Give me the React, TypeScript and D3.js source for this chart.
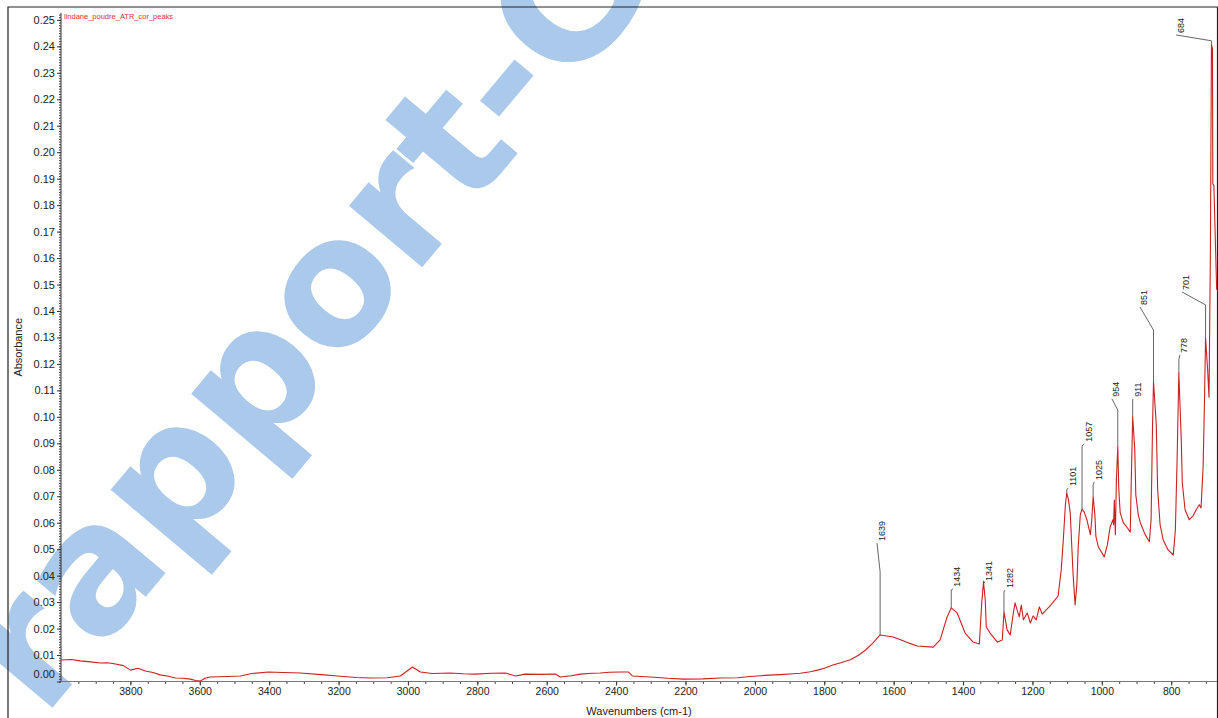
import React, { useEffect, useRef } from 'react';
import * as d3 from 'd3';

// spectrum: wavenumber (cm-1) and absorbance
const wavenumbers = [
  4000, 3970, 3944, 3915, 3886, 3865, 3843, 3820, 3800, 3778, 3757, 3735, 3714, 3690, 3670, 3648,
  3627, 3612, 3598, 3585, 3570, 3520, 3483, 3450, 3402, 3360, 3310, 3250, 3203, 3150, 3108, 3060,
  3022, 2987, 2964, 2930, 2878, 2840, 2806, 2760, 2719, 2690, 2662, 2620, 2575, 2561, 2530, 2503,
  2470, 2446, 2420, 2388, 2365, 2353, 2301, 2250, 2206, 2150, 2100, 2050, 2013, 1960, 1927, 1890,
  1869, 1840, 1820, 1800, 1775, 1750, 1725, 1700, 1680, 1660, 1639, 1601, 1558, 1532, 1486, 1466,
  1446, 1434, 1417, 1394, 1371, 1353, 1346, 1341, 1336, 1333, 1322, 1301, 1287, 1282, 1273, 1264,
  1255, 1250, 1244, 1238, 1232, 1226, 1215, 1206, 1198, 1189, 1180, 1172, 1149, 1126, 1117, 1111,
  1105, 1101, 1096, 1091, 1083, 1077, 1072, 1068, 1062, 1057, 1051, 1043, 1033, 1029, 1025, 1020,
  1017, 1010, 993, 984, 976, 968, 966, 964, 961, 958, 954, 951, 947, 938, 926, 918,
  915, 911, 905, 902, 895, 889, 875, 863, 858, 854, 851, 843, 839, 832, 823, 809,
  794, 788, 783, 778, 771, 768, 760, 748, 743, 737, 728, 719, 714, 708, 704, 701,
  695, 691, 687, 684, 681, 680, 677, 669,
];
const absorbance = [
  0.0081, 0.0083, 0.0078, 0.0074, 0.007, 0.0071, 0.0066, 0.006, 0.0043, 0.005, 0.004, 0.0034, 0.0025, 0.002, 0.0013, 0.0012,
  0.0009, 0.0004, 0.0002, 0.0012, 0.0017, 0.0019, 0.0021, 0.003, 0.0036, 0.0034, 0.0032, 0.0026, 0.0021, 0.0015, 0.0013, 0.0014,
  0.0021, 0.0055, 0.0036, 0.003, 0.0032, 0.0029, 0.0028, 0.0031, 0.0032, 0.0021, 0.0028, 0.0027, 0.0028, 0.0017, 0.0022, 0.0028,
  0.0031, 0.0032, 0.0035, 0.0036, 0.0036, 0.0021, 0.0017, 0.0012, 0.0009, 0.001, 0.0013, 0.0014, 0.0019, 0.0024, 0.0026, 0.0029,
  0.0031, 0.0037, 0.0043, 0.005, 0.0062, 0.0072, 0.0082, 0.01, 0.012, 0.0145, 0.0176, 0.0168, 0.0146, 0.0134, 0.013, 0.0157,
  0.0244, 0.0278, 0.0259, 0.0183, 0.0149, 0.0142, 0.03, 0.0376, 0.0308, 0.0206, 0.0183, 0.0149, 0.0157, 0.0263, 0.0195, 0.0176,
  0.0259, 0.0297, 0.027, 0.0244, 0.0289, 0.0233, 0.0259, 0.0221, 0.0248, 0.0233, 0.0282, 0.0255, 0.0286, 0.0323, 0.0422, 0.0535,
  0.0668, 0.0713, 0.0686, 0.0637, 0.041, 0.0289, 0.0365, 0.0509, 0.063, 0.0652, 0.0641, 0.0611, 0.0555, 0.0611, 0.0698, 0.063,
  0.0547, 0.0509, 0.0471, 0.0516, 0.0584, 0.0611, 0.0592, 0.0686, 0.0555, 0.0762, 0.0887, 0.0724, 0.0637, 0.06, 0.058, 0.0565,
  0.0762, 0.1, 0.0876, 0.0705, 0.063, 0.06, 0.0555, 0.0528, 0.0611, 0.0951, 0.1133, 0.097, 0.0724, 0.0592, 0.0535, 0.0497,
  0.0478, 0.0573, 0.0838, 0.1167, 0.0913, 0.075, 0.0649, 0.0611, 0.0618, 0.0626, 0.0649, 0.0668, 0.0656, 0.0811, 0.1065, 0.1299,
  0.1178, 0.1074, 0.163, 0.2407, 0.239, 0.188, 0.1875, 0.148,
];

// picked peaks: top of the peak, end of the vertical leader, and where the label sits
const peakLabels = ['684', '701', '778', '851', '911', '954', '1025', '1057', '1101', '1282', '1341', '1434', '1639'];
const peakWn = [684, 701, 778, 851, 911, 954, 1025, 1057, 1101, 1282, 1341, 1434, 1639];
const peakAbs = [0.2407, 0.1299, 0.1167, 0.1133, 0.1, 0.0887, 0.0698, 0.0652, 0.0713, 0.0263, 0.0376, 0.0278, 0.0176];
const leaderAbs = [0.2421, 0.1423, 0.1215, 0.1328, 0.1064, 0.1026, 0.0743, 0.089, 0.0724, 0.0338, 0.038, 0.0346, 0.0414];
const labelWn = [786, 769, 775, 890, 910, 971, 1022, 1051, 1097, 1279, 1337, 1429, 1648];
const labelAbs = [0.2443, 0.1472, 0.1234, 0.1415, 0.1068, 0.1068, 0.0754, 0.0898, 0.0731, 0.0346, 0.0372, 0.035, 0.0523];

const xTicks = [3800, 3600, 3400, 3200, 3000, 2800, 2600, 2400, 2200, 2000, 1800, 1600, 1400, 1200, 1000, 800];
const yTicks = [
  0, 0.01, 0.02, 0.03, 0.04, 0.05, 0.06, 0.07, 0.08, 0.09, 0.1, 0.11, 0.12, 0.13,
  0.14, 0.15, 0.16, 0.17, 0.18, 0.19, 0.2, 0.21, 0.22, 0.23, 0.24, 0.25,
];

const WIDTH = 1218;
const HEIGHT = 718;
const FONT = '"Liberation Sans", Arial, sans-serif';

const App: React.FC = () => {
  const chartRef = useRef<SVGSVGElement>(null);

  useEffect(() => {
    if (!chartRef.current) return;
    const svg = d3.select(chartRef.current);
    svg.selectAll('*').remove();

    const x = d3.scaleLinear().domain([4000, 668]).range([61, 1217]);
    const y = d3.scaleLinear().domain([0, 0.2526]).range([681.5, 13]);

    svg.append('rect').attr('width', WIDTH).attr('height', HEIGHT).attr('fill', '#fff');

    // watermark
    svg
      .append('text')
      .attr('transform', 'translate(43, 719) rotate(-50)')
      .attr('font-family', '"DejaVu Sans", sans-serif')
      .attr('font-weight', 'bold')
      .attr('font-size', 175)
      .attr('fill', '#abc9ea')
      .text('rapport-G');

    // outer frame
    svg
      .append('path')
      .attr('d', `M8,${HEIGHT + 5} V7 H1217.5 V${HEIGHT + 5}`)
      .attr('fill', 'none')
      .attr('stroke', '#222')
      .attr('stroke-width', 1.2);

    // minor ticks
    svg
      .append('g')
      .attr('transform', 'translate(61,0)')
      .call(d3.axisLeft(y).tickValues(d3.range(0, 0.2526, 0.001)).tickSize(2).tickFormat(() => ''))
      .call((g) => g.select('.domain').remove())
      .selectAll('line')
      .attr('stroke', '#444');

    svg
      .append('g')
      .attr('transform', 'translate(0,681.5)')
      .call(d3.axisBottom(x).tickValues(d3.range(700, 4000, 50)).tickSize(2.5).tickFormat(() => ''))
      .call((g) => g.select('.domain').remove())
      .selectAll('line')
      .attr('stroke', '#444');

    // y axis
    const yAxis = svg
      .append('g')
      .attr('transform', 'translate(61,0)')
      .call(d3.axisLeft(y).tickValues(yTicks).tickSize(4).tickPadding(2).tickFormat(d3.format('.2f')));
    yAxis.select('.domain').attr('stroke', '#333').attr('d', `M0,13V681.5`);
    yAxis.selectAll('line').attr('stroke', '#333');
    yAxis
      .selectAll('text')
      .attr('font-family', FONT)
      .attr('font-size', 11)
      .attr('fill', '#222')
      .attr('dy', (d: any) => (d === 0 ? '-0.38em' : '0.32em'));

    // x axis
    const xAxis = svg
      .append('g')
      .attr('transform', 'translate(0,681.5)')
      .call(d3.axisBottom(x).tickValues(xTicks).tickSize(4).tickPadding(2.5).tickFormat(d3.format('d')));
    xAxis.select('.domain').attr('stroke', '#777').attr('d', 'M61,0H1217');
    xAxis.selectAll('line').attr('stroke', '#333');
    xAxis.selectAll('text').attr('font-family', FONT).attr('font-size', 10.5).attr('fill', '#222');

    // axis titles
    svg
      .append('text')
      .attr('x', (x(4000) + x(668)) / 2)
      .attr('y', 715)
      .attr('text-anchor', 'middle')
      .attr('font-family', FONT)
      .attr('font-size', 11)
      .attr('fill', '#222')
      .text('Wavenumbers (cm-1)');

    svg
      .append('text')
      .attr('transform', `translate(22,${(y(0) + 13) / 2}) rotate(-90)`)
      .attr('text-anchor', 'middle')
      .attr('font-family', FONT)
      .attr('font-size', 11)
      .attr('fill', '#222')
      .text('Absorbance');

    // spectrum name
    svg
      .append('text')
      .attr('x', 64)
      .attr('y', 19)
      .attr('font-family', FONT)
      .attr('font-size', 7.5)
      .attr('fill', '#d33')
      .text('lindane_poudre_ATR_cor_peaks');

    // peak leaders
    svg
      .append('g')
      .selectAll('path')
      .data(peakWn)
      .enter()
      .append('path')
      .attr('d', (d, i) =>
        `M${x(d)},${y(peakAbs[i])} V${y(leaderAbs[i])} L${x(labelWn[i])},${y(labelAbs[i])}`,
      )
      .attr('fill', 'none')
      .attr('stroke', '#555')
      .attr('stroke-width', 0.9);

    // spectrum
    const line = d3
      .line<number>()
      .x((d) => x(d))
      .y((d, i) => y(absorbance[i]));

    svg
      .append('path')
      .attr('d', line(wavenumbers) as string)
      .attr('fill', 'none')
      .attr('stroke', '#cc1f1f')
      .attr('stroke-width', 1.1)
      .attr('stroke-linejoin', 'round');

    // peak labels
    svg
      .append('g')
      .selectAll('text')
      .data(peakLabels)
      .enter()
      .append('text')
      .attr('transform', (d, i) => `translate(${x(labelWn[i]) + 4.5},${y(labelAbs[i]) - 2}) rotate(-90)`)
      .attr('dominant-baseline', 'central')
      .attr('font-family', FONT)
      .attr('font-size', 9)
      .attr('fill', '#222')
      .text((d) => d);
  }, []);

  return (
    <svg
      ref={chartRef}
      width={WIDTH}
      height={HEIGHT}
      style={{ position: 'absolute', left: 0, top: 0, display: 'block' }}
    ></svg>
  );
};

export default App;
